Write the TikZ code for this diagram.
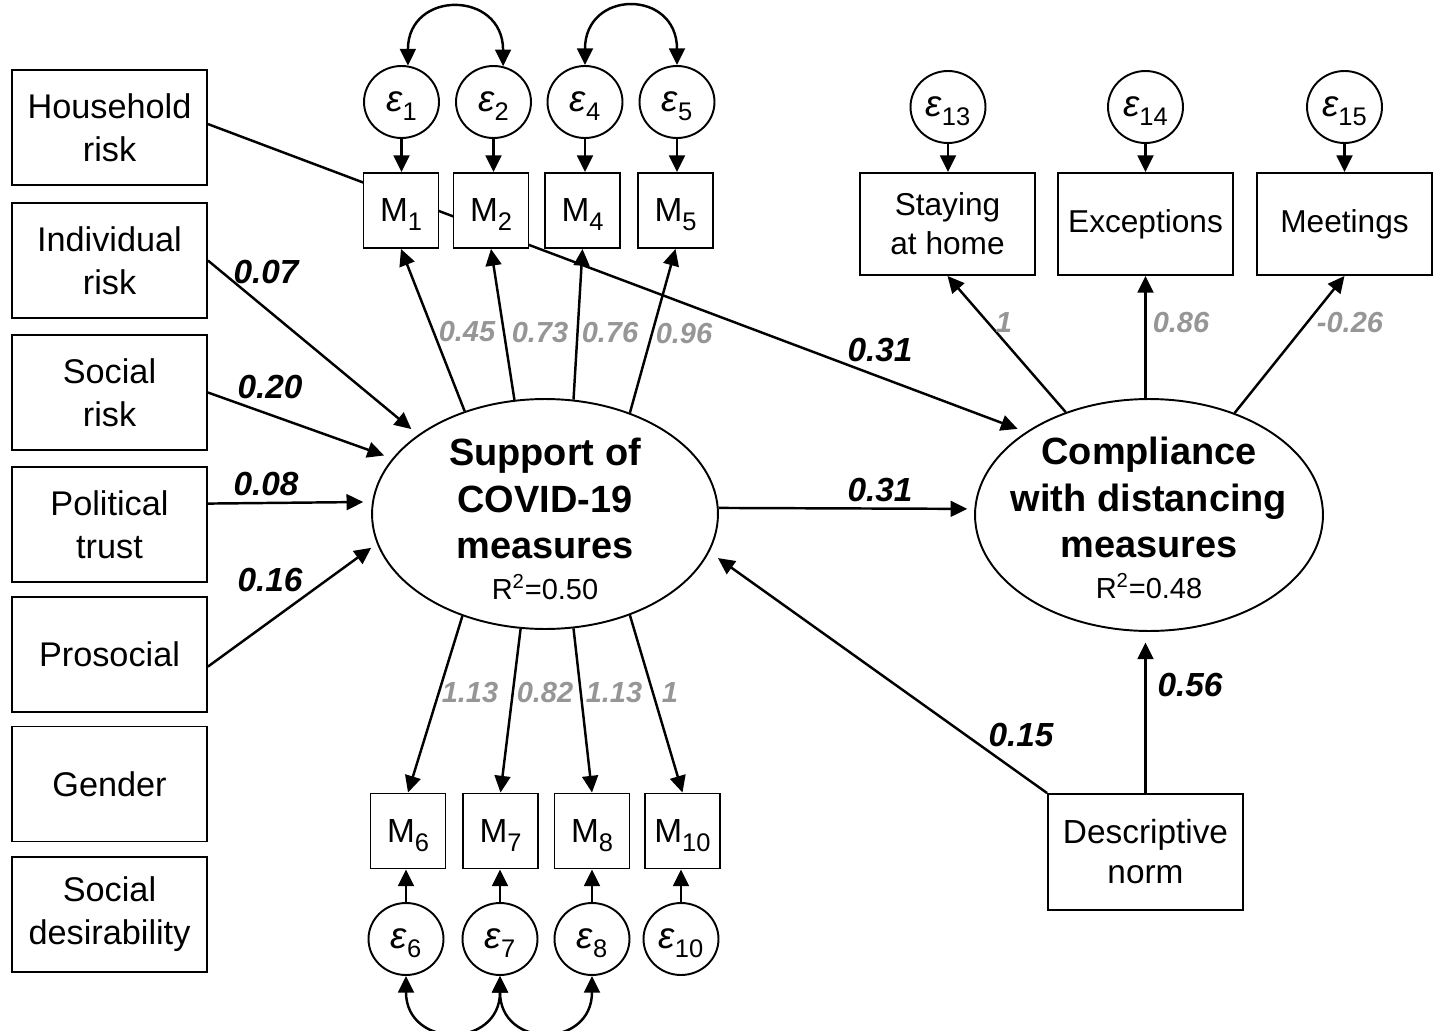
\documentclass[tikz,border=0pt]{standalone}
\usepackage{fontspec}
\setmainfont{Liberation Sans}
\usetikzlibrary{arrows.meta,shapes.geometric,calc}

\definecolor{loadgray}{RGB}{150,150,150}
% subscript for indicator and error labels (kept out of the box height)
\newcommand\sbs[1]{\smash{\raisebox{-5pt}{\fontsize{14.5}{14.5}\selectfont #1}}}
\newcommand\eps[1]{{\fontsize{21}{21}\selectfont\itshape ε}\sbs{#1}}

\begin{document}
\begin{tikzpicture}[x=0.02cm,y=-0.02cm,line width=1.4pt,
  tip/.style={-{Triangle[length=9.5pt,width=9pt]}},
  both/.style={{Triangle[length=9.5pt,width=9pt]}-{Triangle[length=9.5pt,width=9pt]}},
  obsbox/.style={draw,rectangle,line width=1.1pt,fill=white,minimum width=3.9cm,minimum height=2.3cm,inner sep=0pt,align=center,font=\fontsize{19.5}{24.5}\selectfont},
  rbox/.style={draw,rectangle,line width=1.1pt,fill=white,minimum width=3.5cm,minimum height=2.04cm,inner sep=0pt,align=center,font=\fontsize{18}{22}\selectfont},
  mbox/.style={draw,rectangle,line width=1.1pt,fill=white,minimum width=1.5cm,minimum height=1.5cm,inner sep=0pt,font=\fontsize{19}{19}\selectfont},
  errc/.style={draw,ellipse,line width=1.1pt,fill=white,minimum width=1.5cm,minimum height=1.44cm,inner sep=0pt},
  latent/.style={draw,ellipse,line width=1.1pt,minimum width=6.92cm,minimum height=4.6cm,inner sep=0pt},
  coef/.style={font=\fontsize{19}{19}\selectfont\bfseries\itshape},
  load/.style={text=loadgray,font=\fontsize{16.5}{16.5}\selectfont\bfseries\itshape},
]
\useasboundingbox (0,0) rectangle (1434,1031);

% exogenous predictors
\node[obsbox] (hh)   at (109.5,127.5) {Household\\risk};
\node[obsbox] (ind)  at (109.5,260.5) {Individual\\risk};
\node[obsbox] (soc)  at (109.5,392.5) {Social\\risk};
\node[obsbox] (pol)  at (109.5,524.5) {Political\\trust};
\node[obsbox] (pros) at (109.5,654.5) {Prosocial};
\node[obsbox] (gen)  at (109.5,784)   {Gender};
\node[obsbox] (sdes) at (109.5,914.5) {Social\\desirability};

% latent variables
\node[latent] (sup) at (545,514) {};
\node (suptxt) at (545,519) {\parbox{6.5cm}{\centering\fontsize{21.6}{26.5}\selectfont\bfseries Support of\\COVID-19\\measures\par\fontsize{16.5}{23}\selectfont\mdseries R\textsuperscript{2}=0.50}};
\node[latent,minimum width=6.96cm,minimum height=4.64cm] (comp) at (1149,515) {};
\node (comptxt) at (1149,518) {\parbox{6.5cm}{\centering\fontsize{21.6}{26.5}\selectfont\bfseries Compliance\\with distancing\\measures\par\fontsize{16.5}{23}\selectfont\mdseries R\textsuperscript{2}=0.48}};

% household risk path runs behind the indicator boxes
\draw[tip,shorten >=5pt] (hh.2.6) -- (comp.146.2);

% indicators of support
\node[mbox] (m1)  at (401,210.5) {M\sbs{1}};
\node[mbox] (m2)  at (491,210.5) {M\sbs{2}};
\node[mbox] (m4)  at (582.5,210.5) {M\sbs{4}};
\node[mbox] (m5)  at (675.5,210.5) {M\sbs{5}};
\node[mbox] (m6)  at (408,831) {M\sbs{6}};
\node[mbox] (m7)  at (500.5,831) {M\sbs{7}};
\node[mbox] (m8)  at (592,831) {M\sbs{8}};
\node[mbox] (m10) at (682.5,831) {M\sbs{10}};

% error terms
\node[errc] (e1)  at (401.5,102) {\eps{1}};
\node[errc] (e2)  at (493.5,102) {\eps{2}};
\node[errc] (e4)  at (585,102) {\eps{4}};
\node[errc] (e5)  at (677,102) {\eps{5}};
\node[errc] (e6)  at (406,939) {\eps{6}};
\node[errc] (e7)  at (500,939) {\eps{7}};
\node[errc] (e8)  at (592,939) {\eps{8}};
\node[errc] (e10) at (681,939) {\eps{10}};

% indicators of compliance
\node[rbox] (stay) at (947.5,224) {Staying\\at home};
\node[rbox] (exc)  at (1145.5,224) {Exceptions};
\node[rbox] (meet) at (1344.5,224) {Meetings};
\node[errc] (e13) at (948,107) {\eps{13}};
\node[errc] (e14) at (1145.5,107) {\eps{14}};
\node[errc] (e15) at (1344.5,107) {\eps{15}};

\node[obsbox,minimum height=2.32cm,font=\fontsize{19}{22.8}\selectfont] (desc) at (1145.5,852) {Descriptive\\norm};

% structural paths
\draw[tip,shorten >=5pt] (ind.east) -- (sup.148.4);
\draw[tip,shorten >=5pt] (soc.east) -- (sup.160.8);
\draw[tip,shorten >=5pt] (pol.12.4) -- (sup.176.3);
\draw[tip,shorten >=4pt] (pros.-7.3) -- (sup.190.7);
\draw[tip,shorten >=4pt] (sup.2) -- (comp.178);
\draw[tip,shorten >=6pt] (desc.north west) -- (sup.347.5);
\draw[tip,shorten >=6pt] (desc.north) -- (desc.north |- comp.south);

% measurement paths
\draw[tip] (sup.128.8) -- (m1.south);
\draw[tip] (sup.105.2) -- (m2.south);
\draw[tip] (sup.76.7) -- (m4.south);
\draw[tip] (sup.50.9) -- (m5.south);
\draw[tip] (sup.231.4) -- (m6.north);
\draw[tip] (sup.258.7) -- (m7.north);
\draw[tip] (sup.284.6) -- (m8.north);
\draw[tip] (sup.310.7) -- (m10.north);
\draw[tip] (comp.129.4) -- (stay.south);
\draw[tip] (exc.south |- comp.north) -- (exc.south);
\draw[tip] (comp.50.4) -- (meet.south);

% error paths
\foreach \e/\m in {e1/m1,e2/m2,e4/m4,e5/m5,e13/stay,e14/exc,e15/meet}
  \draw[tip] (\e.south) -- (\e.south |- \m.north);
\foreach \e/\m in {e6/m6,e7/m7,e8/m8,e10/m10}
  \draw[tip] (\e.north) -- (\e.north |- \m.south);

% error covariances
\draw[both] (e1.80) .. controls +(0,-76) and +(0,-76) .. (e2.75);
\draw[both] (e4.north) .. controls +(0,-76) and +(0,-76) .. (e5.north);
\draw[both] (e6.south) .. controls +(0,73) and +(0,73) .. (e7.south);
\draw[both] (e7.south) .. controls +(0,73) and +(0,73) .. (e8.south);

% path coefficients
\node[coef] (c1) at (266,272) {0.07};
\node[coef] (c2) at (270,387) {0.20};
\node[coef] (c3) at (266,484) {0.08};
\node[coef] (c4) at (270,580) {0.16};
\node[coef] (c5) at (880,350) {0.31};
\node[coef] (c6) at (880,490) {0.31};
\node[coef] (c7) at (1021,735) {0.15};
\node[coef] (c8) at (1190,685) {0.56};

% factor loadings
\node[load] (l1)  at (467,332) {0.45};
\node[load] (l2)  at (540,333) {0.73};
\node[load] (l4)  at (610,333) {0.76};
\node[load] (l5)  at (684,334) {0.96};
\node[load] (l6)  at (470,693) {1.13};
\node[load] (l7)  at (545,693) {0.82};
\node[load] (l8)  at (614,693) {1.13};
\node[load] (l10) at (670,693) {1};
\node[load] (l13) at (1004,323) {1};
\node[load] (l14) at (1181,323) {0.86};
\node[load] (l15) at (1350,323) {-0.26};
\end{tikzpicture}
\end{document}
